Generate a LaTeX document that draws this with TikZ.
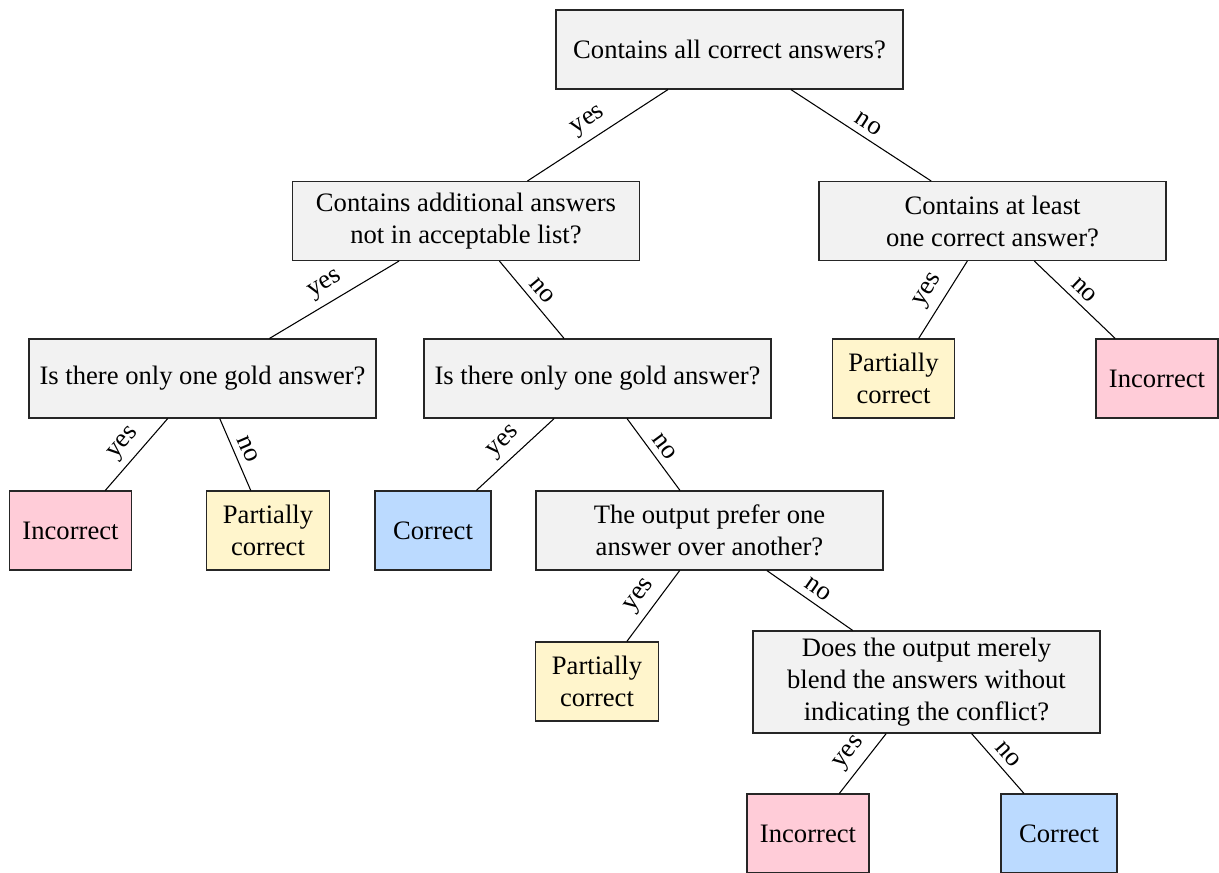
\documentclass[tikz,border=0pt]{standalone}
\usepackage{fontspec}
\setmainfont{Liberation Serif}
\definecolor{qgray}{RGB}{242,242,242}
\definecolor{leafpink}{RGB}{255,204,216}
\definecolor{leafyellow}{RGB}{255,245,204}
\definecolor{leafblue}{RGB}{187,218,255}
\begin{document}
\begin{tikzpicture}[x=0.3757pt,y=-0.3757pt,
  box/.style={draw=black!85, line width=0.4pt, align=center, inner sep=0pt,
    minimum height=29.68pt, font=\fontsize{10}{12}\selectfont},
  quest/.style={box, fill=qgray, minimum width=130.37pt},
  incor/.style={box, fill=leafpink, minimum width=45.84pt},
  partial/.style={box, fill=leafyellow, minimum width=46.0pt},
  corr/.style={box, fill=leafblue, minimum width=43.58pt},
  edge/.style={line width=0.4pt, black},
  lbl/.style={midway, sloped, above, inner sep=2.5pt, font=\fontsize{10}{12}\selectfont}
]
\useasboundingbox (0,0) rectangle (1219,873);

\node[quest] (root) at (729.5,49.5) {Contains all correct answers?};
\node[quest] (qa) at (466,221) {Contains additional answers\\not in acceptable list?};
\node[quest] (qb) at (992.5,221) {Contains at least\\one correct answer?};
\node[quest] (qc) at (202.5,378.5) {Is there only one gold answer?};
\node[quest] (qd) at (597.5,378.5) {Is there only one gold answer?};
\node[partial] (pc1) at (893.5,378.5) {Partially\\correct};
\node[incor] (inc1) at (1157,378.5) {Incorrect};
\node[incor] (inc2) at (70.5,530.5) {Incorrect};
\node[partial] (pc2) at (268,530.5) {Partially\\correct};
\node[corr] (cor1) at (433,530.5) {Correct};
\node[quest] (qe) at (709.5,530.5) {The output prefer one\\answer over another?};
\node[partial] (pc3) at (597,681.5) {Partially\\correct};
\node[quest, minimum height=38.32pt] (qf) at (926.5,682) {Does the output merely\\blend the answers without\\indicating the conflict?};
\node[incor] (inc3) at (808,833.5) {Incorrect};
\node[corr] (cor2) at (1059,833.5) {Correct};

\draw[edge] (root) -- node[lbl]{yes} (qa);
\draw[edge] (root) -- node[lbl]{no} (qb);
\draw[edge] (qa) -- node[lbl]{yes} (qc);
\draw[edge] (qa) -- node[lbl]{no} (qd);
\draw[edge] (qb) -- node[lbl]{yes} (pc1);
\draw[edge] (qb) -- node[lbl]{no} (inc1);
\draw[edge] (qc) -- node[lbl]{yes} (inc2);
\draw[edge] (qc) -- node[lbl]{no} (pc2);
\draw[edge] (qd) -- node[lbl]{yes} (cor1);
\draw[edge] (qd) -- node[lbl]{no} (qe);
\draw[edge] (qe) -- node[lbl]{yes} (pc3);
\draw[edge] (qe) -- node[lbl]{no} (qf);
\draw[edge] (qf) -- node[lbl]{yes} (inc3);
\draw[edge] (qf) -- node[lbl]{no} (cor2);
\end{tikzpicture}
\end{document}
